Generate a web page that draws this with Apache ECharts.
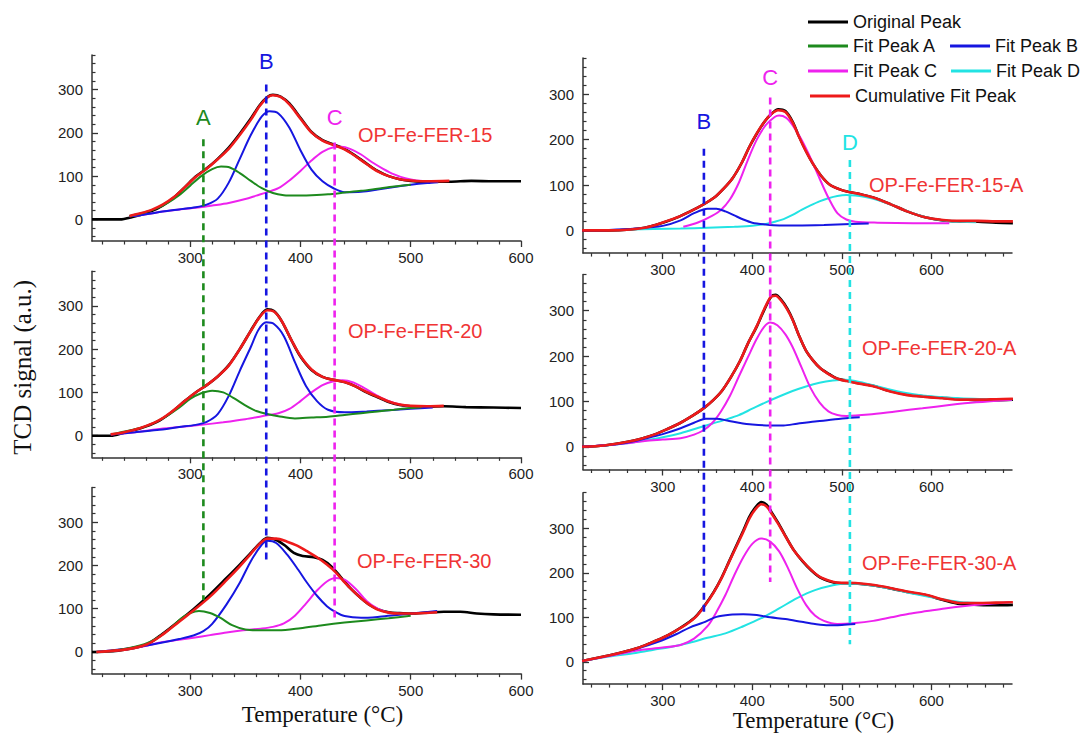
<!DOCTYPE html>
<html><head><meta charset="utf-8">
<script src="https://cdn.jsdelivr.net/npm/echarts@6/dist/echarts.min.js"></script>
<style>html,body{margin:0;padding:0;background:#fff}#c{width:1089px;height:733px}</style>
</head><body><div id="c"></div>
<script>
// ---------------- DATA ----------------
const xTickLabels = [300, 400, 500, 600];
const yTickLabels = [0, 100, 200, 300];
const sampleNames = ['OP-Fe-FER-15','OP-Fe-FER-20','OP-Fe-FER-30','OP-Fe-FER-15-A','OP-Fe-FER-20-A','OP-Fe-FER-30-A'];

// OP-Fe-FER-15
const L15_orig = [[211,0],[238,0],[245,4],[255,10],[265,19],[275,32],[285,50],[295,74],[305,99],[315,118],[325,140],[335,166],[345,198],[355,233],[363,264],[370,283],[375,288],[382,284],[390,268],[400,235],[410,202],[420,183],[430,173],[440,163],[450,147],[460,129],[470,112],[480,100],[490,93],[500,89],[515,87],[535,87],[555,89],[575,88],[600,88]];
const L15_A = [[245,8],[260,17],[270,26],[280,39],[290,56],[300,78],[310,100],[320,116],[328,122],[336,120],[345,107],[355,89],[365,72],[375,61],[385,56],[395,55],[410,56],[425,58],[440,62],[455,66],[470,71],[485,76],[500,80]];
const L15_B = [[245,7],[260,12],[275,18],[290,23],[305,28],[315,34],[325,48],[335,85],[345,140],[355,195],[365,238],[372,250],[380,245],[390,212],[400,160],[410,115],[420,88],[430,72],[440,63],[455,64],[470,69],[485,75],[500,80],[515,84],[525,86]];
const L15_C = [[245,7],[260,12],[275,18],[290,23],[309,28],[320,32],[335,38],[350,47],[360,55],[370,63],[380,72],[390,90],[400,112],[410,136],[420,156],[430,167],[437,168],[445,163],[455,150],[465,132],[475,117],[485,104],[495,95],[505,90],[520,88]];
const L15_cum = [[245,8],[255,14],[265,22],[275,34],[285,51],[295,74],[305,98],[315,117],[325,139],[335,163],[345,195],[355,230],[363,262],[370,282],[375,287],[382,283],[390,266],[400,233],[410,201],[420,182],[430,172],[440,162],[450,146],[460,128],[470,111],[480,100],[490,93],[500,90],[515,88],[535,89]];

// OP-Fe-FER-20
const L20_orig = [[211,0],[228,0],[240,7],[255,17],[270,32],[282,52],[295,80],[305,100],[315,117],[325,137],[335,163],[345,200],[355,243],[363,275],[370,292],[376,288],[383,265],[392,220],[400,183],[410,152],[420,136],[430,129],[440,124],[450,114],[460,100],[470,89],[480,78],[490,71],[500,68],[515,67],[530,68],[550,66],[575,65],[600,64]];
const L20_A = [[228,3],[245,12],[260,22],[275,40],[290,65],[300,85],[310,98],[320,104],[330,100],[340,86],[350,70],[360,57],[370,50],[380,45],[395,40],[410,42],[425,44],[440,48],[455,52],[470,56],[485,60],[500,64],[510,66]];
const L20_B = [[228,3],[250,8],[270,13],[290,20],[305,25],[315,32],[325,50],[335,92],[345,150],[355,205],[362,245],[369,262],[376,258],[385,230],[395,170],[405,115],[415,80],[425,60],[440,54],[460,56],[480,59],[500,62],[520,65]];
const L20_C = [[228,3],[250,8],[270,15],[290,20],[310,25],[330,31],[350,38],[365,45],[380,52],[390,62],[400,80],[410,100],[420,117],[430,126],[438,128],[448,123],[458,110],[468,95],[478,82],[490,72],[500,68],[515,67]];
const L20_cum = [[228,3],[240,8],[255,18],[270,33],[282,53],[295,80],[305,100],[315,117],[325,137],[335,162],[345,200],[355,242],[363,274],[370,290],[376,287],[383,265],[392,220],[400,184],[410,153],[420,136],[430,129],[440,124],[450,114],[460,101],[470,90],[480,79],[490,72],[500,69],[515,68],[530,69]];

// OP-Fe-FER-30
const L30_orig = [[211,0],[225,1],[242,6],[261,18],[275,42],[290,72],[303,99],[318,133],[333,171],[345,202],[355,229],[363,251],[370,264],[378,259],[386,246],[394,229],[402,222],[412,219],[420,213],[428,198],[436,175],[445,148],[455,124],[462,110],[470,99],[480,92],[490,90],[500,89],[515,91],[530,93],[545,93],[560,89],[575,87],[600,86]];
const L30_A = [[215,0],[230,3],[250,12],[265,25],[280,50],[292,78],[300,90],[308,95],[318,90],[328,78],[338,62],[350,52],[365,50],[380,50],[400,55],[420,62],[440,68],[460,73],[480,78],[500,84]];
const L30_B = [[215,0],[240,7],[258,14],[275,22],[290,30],[303,38],[312,48],[320,65],[333,110],[345,160],[355,210],[365,248],[370,257],[378,252],[388,225],[398,190],[406,160],[415,130],[424,106],[432,92],[440,83],[455,79],[470,81],[485,85],[505,90],[524,95]];
const L30_C = [[215,0],[242,6],[258,13],[273,22],[290,28],[303,33],[318,39],[333,45],[348,50],[364,54],[375,58],[385,66],[395,84],[405,112],[415,142],[424,163],[432,171],[440,167],[450,146],[460,118],[470,100],[480,91],[495,88]];
const L30_cum = [[215,0],[242,6],[261,18],[275,40],[290,70],[303,96],[318,128],[333,166],[345,198],[355,227],[363,250],[370,262],[378,262],[388,255],[397,246],[406,233],[415,219],[424,202],[432,184],[439,164],[447,143],[455,124],[462,110],[470,98],[480,91],[490,89],[500,89],[512,90],[524,92]];

// OP-Fe-FER-15-A
const R15_orig = [[210,0],[240,0],[264,2],[280,6],[292,12],[305,20],[319,31],[339,50],[358,73],[368,92],[378,115],[388,148],[397,185],[405,213],[413,238],[421,256],[429,267],[437,263],[445,240],[452,208],[460,175],[468,146],[477,120],[487,100],[497,91],[507,85],[520,80],[534,73],[554,58],[573,42],[593,29],[613,22],[632,20],[652,19],[672,17],[691,16]];
const R15_B = [[210,0],[240,1],[270,4],[300,10],[320,22],[335,38],[350,48],[360,48],[370,42],[380,33],[390,24],[400,17],[415,13],[430,11],[450,11],[480,12],[510,14],[530,15]];
const R15_C = [[323,8],[340,18],[355,32],[365,45],[375,68],[385,105],[395,155],[405,200],[415,232],[425,250],[430,253],[438,248],[445,232],[455,200],[465,160],[475,115],[485,72],[495,38],[505,24],[515,19],[540,17],[580,16],[620,16]];
const R15_D = [[260,2],[290,3],[320,4],[350,6],[380,8],[400,10],[415,14],[425,19],[435,25],[445,34],[455,45],[465,55],[475,64],[485,71],[495,76],[505,78],[515,77],[525,74],[540,67],[555,57],[570,45],[585,34],[600,26],[620,20],[650,18]];
const R15_cum = [[210,0],[240,0],[264,2],[280,6],[292,12],[305,21],[319,31],[339,50],[358,73],[368,92],[378,115],[388,148],[397,185],[405,214],[413,238],[421,256],[429,265],[437,261],[445,238],[452,207],[460,174],[468,146],[477,120],[487,100],[497,91],[507,85],[520,80],[534,73],[554,58],[573,42],[593,29],[613,23],[632,21],[652,21],[672,20],[691,20]];

// OP-Fe-FER-20-A
const R20_orig = [[210,0],[235,3],[261,11],[276,18],[292,28],[305,39],[319,52],[333,68],[347,87],[357,104],[366,123],[376,153],[386,188],[395,227],[405,265],[413,300],[421,331],[426,335],[432,325],[439,305],[445,281],[452,246],[460,212],[468,190],[476,173],[486,160],[495,150],[505,146],[515,142],[534,135],[554,123],[573,115],[593,111],[612,108],[632,105],[652,103],[672,103],[691,104]];
const R20_B = [[210,0],[240,4],[260,9],[280,18],[300,28],[320,41],[335,53],[348,62],[360,62],[372,58],[385,53],[400,49],[420,47],[435,47],[450,51],[470,56],[490,60],[510,64],[520,65]];
const R20_C = [[210,0],[240,4],[260,8],[280,13],[300,16],[320,19],[335,27],[345,36],[355,52],[365,78],[375,112],[385,155],[395,197],[405,238],[413,264],[420,274],[428,268],[437,248],[445,220],[455,175],[465,130],[475,98],[485,78],[495,70],[505,68],[530,71],[560,78],[590,85],[620,92],[650,98],[690,104]];
const R20_D = [[230,2],[260,8],[280,14],[300,21],[320,30],[340,42],[355,51],[370,60],[385,70],[400,84],[415,98],[430,111],[445,123],[460,133],[475,141],[490,146],[503,148],[515,145],[530,138],[550,128],[570,119],[590,113],[620,108],[660,105],[690,104]];
const R20_cum = [[210,0],[235,3],[261,11],[276,18],[292,28],[305,39],[319,52],[333,68],[347,87],[357,104],[366,123],[376,153],[386,188],[395,227],[405,266],[413,302],[421,331],[426,333],[432,323],[439,303],[445,280],[452,246],[460,212],[468,190],[476,173],[486,159],[495,150],[505,145],[515,141],[534,134],[554,122],[573,114],[593,110],[612,107],[632,104],[652,104],[672,105],[691,106]];

// OP-Fe-FER-30-A
const R30_orig = [[210,2],[241,15],[256,22],[272,31],[286,42],[300,54],[313,68],[327,86],[337,102],[347,127],[357,157],[366,190],[374,225],[382,260],[390,295],[397,327],[404,348],[410,359],[416,353],[421,338],[429,312],[437,283],[446,252],[456,226],[466,205],[476,189],[486,181],[495,177],[515,176],[534,172],[554,165],[573,157],[593,150],[613,139],[632,130],[652,128],[672,127],[691,128]];
const R30_B = [[210,2],[240,14],[270,29],[295,45],[315,62],[330,77],[345,88],[360,101],[375,106],[390,107],[405,105],[420,100],[437,96],[455,90],[470,85],[485,82],[500,83],[515,85]];
const R30_C = [[210,2],[240,13],[270,25],[300,32],[320,38],[335,52],[350,80],[360,112],[370,150],[380,195],[390,235],[400,265],[410,277],[420,270],[430,248],[440,210],[450,165],[460,128],[470,104],[480,92],[495,85],[515,87],[535,92],[555,100],[575,108],[595,114],[615,120],[635,125],[655,129],[687,134]];
const R30_D = [[210,2],[240,12],[270,20],[290,27],[310,34],[330,43],[350,54],[370,64],[390,80],[410,98],[430,120],[450,143],[470,161],[490,172],[505,176],[520,175],[540,170],[560,162],[580,153],[600,145],[620,138],[640,133],[660,132],[690,133]];
const R30_cum = [[210,2],[241,15],[256,22],[272,31],[286,42],[300,54],[313,68],[327,85],[337,101],[347,126],[357,156],[366,189],[374,224],[382,258],[390,292],[397,323],[404,344],[410,354],[416,349],[421,335],[429,310],[437,282],[446,252],[456,227],[466,206],[476,190],[486,182],[495,178],[515,177],[534,173],[554,166],[573,158],[593,151],[613,140],[632,132],[652,132],[672,133],[691,134]];

// Peak-position guide lines (x in °C; extents in stacked-panel units of the column)
const leftGuideLetters = ['A','B','C'];
const leftGuideX = [312, 369, 431];
const leftGuideTop = [185, 312, 178];
const leftGuideBottom = [-880, -797, -924];
const rightGuideLetters = ['B','C','D'];
const rightGuideX = [346, 420, 509];
const rightGuideTop = [180, 293, 155];
const rightGuideBottom = [-850, -775, -912];

// ---------------- LAYOUT / STYLE ----------------
const COL = {orig:'#000000', A:'#1d8a1d', B:'#1616e0', C:'#ee22ee', D:'#22e3e3', cum:'#ee1a1a'};
const NAMES = {orig:'Original Peak', A:'Fit Peak A', B:'Fit Peak B', C:'Fit Peak C', D:'Fit Peak D', cum:'Cumulative Fit Peak'};
const WIDTH = {orig:2.6, A:2, B:2, C:2, D:2, cum:2.6};
const ORDER = ['orig','D','C','B','A','cum'];
const YMIN = -50, YMAX = 380;
const columns = {
  L:{left:92, width:429, xmin:211, xmax:600, top:55, px:0.4326, offs:[0,500,1000]},
  R:{left:583, width:429, xmin:211, xmax:690, top:58, px:0.4537, offs:[0,477,958]}
};
const panels = [
  {col:'L', row:0, tl:[358,125], curves:{orig:L15_orig, C:L15_C, B:L15_B, A:L15_A, cum:L15_cum}},
  {col:'L', row:1, tl:[348,321], curves:{orig:L20_orig, C:L20_C, B:L20_B, A:L20_A, cum:L20_cum}},
  {col:'L', row:2, tl:[357,551], curves:{orig:L30_orig, C:L30_C, B:L30_B, A:L30_A, cum:L30_cum}},
  {col:'R', row:0, tl:[869,175], curves:{orig:R15_orig, D:R15_D, C:R15_C, B:R15_B, cum:R15_cum}},
  {col:'R', row:1, tl:[862,338], curves:{orig:R20_orig, D:R20_D, C:R20_C, B:R20_B, cum:R20_cum}},
  {col:'R', row:2, tl:[862,553], curves:{orig:R30_orig, D:R30_D, C:R30_C, B:R30_B, cum:R30_cum}}
];
const SANS = 'Liberation Sans, Arial, sans-serif';
const SERIF = 'Liberation Serif, Times New Roman, serif';
const AX = '#333';

function ticksEvery(step, a, b, skip){ const r=[]; for(let v=Math.ceil(a/step)*step; v<=b; v+=step){ if(!skip.includes(v)) r.push(v);} return r; }

const grid=[], xAxis=[], yAxis=[], series=[], title=[];
panels.forEach((p,i)=>{
  const c = columns[p.col];
  grid.push({left:c.left, top:c.top + c.offs[p.row]*c.px, width:c.width, height:(YMAX-YMIN)*c.px});
  const isBottom = p.row===2;
  xAxis.push({gridIndex:i, type:'value', min:c.xmin, max:c.xmax, position:'bottom',
    axisLine:{show:true, onZero:false, lineStyle:{color:AX, width:1.5}},
    axisTick:{show:true, customValues:xTickLabels, length:6, lineStyle:{color:AX, width:1.3}},
    axisLabel:{customValues:xTickLabels, color:'#222', fontSize:15, fontFamily:SANS, margin:9},
    splitLine:{show:false},
    name: isBottom ? 'Temperature (°C)' : '', nameLocation:'middle', nameGap: p.col==='L' ? 29 : 24,
    nameTextStyle:{fontFamily:SERIF, fontSize:23, color:'#111', padding:[0,0,0,32]}
  });
  xAxis.push({gridIndex:i, type:'value', min:c.xmin, max:c.xmax, position:'bottom',
    axisLine:{show:false, onZero:false},
    axisTick:{show:true, customValues:ticksEvery(20,c.xmin,c.xmax,xTickLabels), length:3.5, lineStyle:{color:AX, width:1.2}},
    axisLabel:{show:false}, splitLine:{show:false}});
  yAxis.push({gridIndex:i, type:'value', min:YMIN, max:YMAX, position:'left',
    axisLine:{show:true, onZero:false, lineStyle:{color:AX, width:1.5}},
    axisTick:{show:true, inside:true, customValues:yTickLabels, length:6, lineStyle:{color:AX, width:1.3}},
    axisLabel:{customValues:yTickLabels, color:'#222', fontSize:15, fontFamily:SANS, margin:9},
    splitLine:{show:false},
    name: (p.col==='L' && p.row===1) ? 'TCD signal (a.u.)' : '', nameLocation:'middle', nameRotate:90, nameGap:57,
    nameTextStyle:{fontFamily:SERIF, fontSize:25, color:'#111', padding:[0,6,0,0]}
  });
  yAxis.push({gridIndex:i, type:'value', min:YMIN, max:YMAX, position:'left',
    axisLine:{show:false, onZero:false},
    axisTick:{show:true, inside:true, customValues:ticksEvery(20,YMIN,YMAX,yTickLabels), length:3.5, lineStyle:{color:AX, width:1.2}},
    axisLabel:{show:false}, splitLine:{show:false}});
  ORDER.forEach(k=>{
    if(!p.curves[k]) return;
    series.push({type:'line', name:NAMES[k], xAxisIndex:2*i, yAxisIndex:2*i, data:p.curves[k],
      showSymbol:false, symbol:'none', smooth:0.3, color:COL[k], silent:true,
      lineStyle:{color:COL[k], width:WIDTH[k]}});
  });
  title.push({text:sampleNames[i], left:p.tl[0], top:p.tl[1], padding:0,
    textStyle:{color:'#f03434', fontSize:20, fontWeight:'normal', fontFamily:SANS}});
});

// overlay grids for guide lines spanning the three stacked panels of each column
function addGuides(colKey, letters, xs, tops, bottoms, colorKeys, dists){
  const c = columns[colKey];
  const gi = grid.length;
  const ymin = YMIN - c.offs[2];
  grid.push({left:c.left, top:c.top, width:c.width, height:(YMAX-ymin)*c.px});
  const xi = xAxis.length, yi = yAxis.length;
  xAxis.push({gridIndex:gi, type:'value', min:c.xmin, max:c.xmax, show:false});
  yAxis.push({gridIndex:gi, type:'value', min:ymin, max:YMAX, show:false});
  letters.forEach((L,j)=>{
    const col = COL[colorKeys[j]];
    series.push({type:'line', xAxisIndex:xi, yAxisIndex:yi, silent:true, z:5,
      symbol:'circle', symbolSize:0, showSymbol:true,
      lineStyle:{color:col, width:2.6, type:[7,5]},
      data:[{value:[xs[j], tops[j]], label:{show:true, formatter:L, position:'top', distance:dists[j], color:col, fontSize:22, fontFamily:SANS}},
            {value:[xs[j], bottoms[j]], label:{show:false}}]});
  });
}
addGuides('L', leftGuideLetters, leftGuideX, leftGuideTop, leftGuideBottom, ['A','B','C'], [11,12,14]);
addGuides('R', rightGuideLetters, rightGuideX, rightGuideTop, rightGuideBottom, ['B','C','D'], [16,9,7]);

const legBase = {icon:'rect', itemWidth:40, itemHeight:3, itemGap:14, padding:0, selectedMode:false,
  textStyle:{fontSize:18, fontFamily:SANS, color:'#111'}};
const legend = [
  Object.assign({}, legBase, {left:808, top:13, data:['Original Peak']}),
  Object.assign({}, legBase, {left:808, top:37, data:['Fit Peak A','Fit Peak B']}),
  Object.assign({}, legBase, {left:808, top:62, data:['Fit Peak C','Fit Peak D']}),
  Object.assign({}, legBase, {left:810, top:87, data:['Cumulative Fit Peak']})
];

const chart = echarts.init(document.getElementById('c'), null, {renderer:'svg'});
chart.setOption({animation:false, backgroundColor:'#fff', grid, xAxis, yAxis, series, title, legend});
</script>
</body></html>
